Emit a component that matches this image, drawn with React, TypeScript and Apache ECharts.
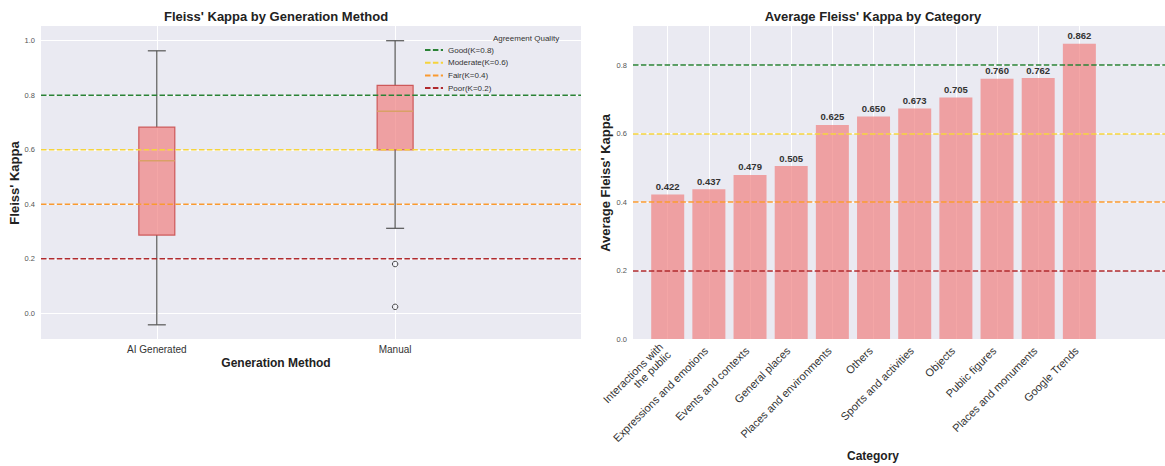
import React, { useEffect, useRef } from "react";
import * as echarts from "echarts";

// ---- Data ----
const methods = ["AI Generated", "Manual"];
const whiskerLow = [-0.042, 0.312];
const q1 = [0.287, 0.6];
const median = [0.56, 0.741];
const q3 = [0.683, 0.836];
const whiskerHigh = [0.963, 1.0];
const manualOutliers = [0.181, 0.024];

const thresholdNames = ["Good(K=0.8)", "Moderate(K=0.6)", "Fair(K=0.4)", "Poor(K=0.2)"];
const thresholdValues = [0.8, 0.6, 0.4, 0.2];

const categories = [
  "Interactions with\nthe public",
  "Expressions and emotions",
  "Events and contexts",
  "General places",
  "Places and environments",
  "Others",
  "Sports and activities",
  "Objects",
  "Public figures",
  "Places and monuments",
  "Google Trends",
];
const avgKappa = [0.422, 0.437, 0.479, 0.505, 0.625, 0.65, 0.673, 0.705, 0.76, 0.762, 0.862];

const leftTicks = [0, 0.2, 0.4, 0.6, 0.8, 1.0];
const rightTicks = [0, 0.2, 0.4, 0.6, 0.8];

// ---- Styles ----
const thresholdColors = ["#2A8236", "#F5D43C", "#FA9A30", "#B02A2E"];
const FONT = "Liberation Sans";
const BG = "#EAEAF2";
const leftX = { min: 0.514, max: 2.78 };
const leftY = { min: -0.094, max: 1.054 };
const rightX = { min: -0.843, max: 12.08 };
const rightY = { min: 0, max: 0.914 };

export default function App() {
  const ref = useRef<HTMLDivElement>(null);
  useEffect(() => {
    if (!ref.current) return;
    const chart = echarts.init(ref.current, null, { renderer: "svg" });
    const dash = [5.5, 2.4];

    const boxData = methods.map((_, i) => [i + 1, whiskerLow[i], q1[i], median[i], q3[i], whiskerHigh[i]]);
    const outlierData = manualOutliers.map((v) => [methods.indexOf("Manual") + 1, v]);
    const barData = avgKappa.map((v, i) => [i, v]);

    const option: any = {
      animation: false,
      backgroundColor: "#ffffff",
      textStyle: { fontFamily: FONT },
      grid: [
        { left: 41, top: 26, width: 540, height: 313, show: true, backgroundColor: BG, borderWidth: 0 },
        { left: 633, top: 26, width: 532, height: 313, show: true, backgroundColor: BG, borderWidth: 0 },
      ],
      xAxis: [
        {
          gridIndex: 0,
          type: "value",
          min: leftX.min,
          max: leftX.max,
          axisLine: { show: false },
          axisTick: { show: false, customValues: [1, 2] },
          splitLine: { show: true, lineStyle: { color: "#ffffff", width: 1 } },
          axisLabel: {
            customValues: [1, 2],
            formatter: (v: number) => methods[Math.round(v) - 1] ?? "",
            fontSize: 10,
            color: "#333",
            margin: 5,
            fontFamily: FONT,
          },
        },
        {
          gridIndex: 1,
          type: "value",
          min: rightX.min,
          max: rightX.max,
          axisLine: { show: false },
          axisTick: { show: false, customValues: categories.map((_, i) => i) },
          splitLine: { show: true, lineStyle: { color: "#ffffff", width: 1 } },
          axisLabel: {
            customValues: categories.map((_, i) => i),
            formatter: (v: number) => categories[Math.round(v)] ?? "",
            fontSize: 11,
            color: "#333",
            rotate: 45,
            margin: 7,
            padding: [0, 4, 0, 0],
            fontFamily: FONT,
          },
        },
      ],
      yAxis: [
        {
          gridIndex: 0,
          type: "value",
          min: leftY.min,
          max: leftY.max,
          axisLine: { show: false },
          axisTick: { show: false, customValues: leftTicks },
          splitLine: { show: true, lineStyle: { color: "#ffffff", width: 1 } },
          axisLabel: {
            customValues: leftTicks,
            formatter: (v: number) => v.toFixed(1),
            fontSize: 7.5,
            color: "#555",
            margin: 6,
            fontFamily: FONT,
          },
        },
        {
          gridIndex: 1,
          type: "value",
          min: rightY.min,
          max: rightY.max,
          axisLine: { show: false },
          axisTick: { show: false, customValues: rightTicks },
          splitLine: { show: true, lineStyle: { color: "#ffffff", width: 1 } },
          axisLabel: {
            customValues: rightTicks,
            formatter: (v: number) => v.toFixed(1),
            fontSize: 7.5,
            color: "#555",
            margin: 6,
            fontFamily: FONT,
          },
        },
      ],
      legend: {
        orient: "vertical",
        left: 424,
        top: 46,
        padding: 0,
        itemWidth: 18,
        itemHeight: 8,
        itemGap: 4.7,
        data: thresholdNames,
        itemStyle: { opacity: 0 },
        textStyle: { fontSize: 8, color: "#333", fontFamily: FONT },
      },
      series: [
        {
          type: "custom",
          xAxisIndex: 0,
          yAxisIndex: 0,
          z: 2,
          data: boxData,
          renderItem: (params: any, api: any) => {
            const x = api.value(0);
            const pLow = api.coord([x, api.value(1)]);
            const pQ1 = api.coord([x, api.value(2)]);
            const pMed = api.coord([x, api.value(3)]);
            const pQ3 = api.coord([x, api.value(4)]);
            const pHigh = api.coord([x, api.value(5)]);
            const half = 18;
            const cap = 9;
            const ws = { stroke: "#555", lineWidth: 1.2 };
            return {
              type: "group",
              children: [
                { type: "line", shape: { x1: pLow[0], y1: pLow[1], x2: pQ1[0], y2: pQ1[1] }, style: ws },
                { type: "line", shape: { x1: pQ3[0], y1: pQ3[1], x2: pHigh[0], y2: pHigh[1] }, style: ws },
                { type: "line", shape: { x1: pLow[0] - cap, y1: pLow[1], x2: pLow[0] + cap, y2: pLow[1] }, style: ws },
                { type: "line", shape: { x1: pHigh[0] - cap, y1: pHigh[1], x2: pHigh[0] + cap, y2: pHigh[1] }, style: ws },
                {
                  type: "rect",
                  shape: { x: pQ3[0] - half, y: pQ3[1], width: half * 2, height: pQ1[1] - pQ3[1] },
                  style: { fill: "rgba(240,128,128,0.7)", stroke: "rgba(200,70,70,0.85)", lineWidth: 1.2 },
                },
                {
                  type: "line",
                  shape: { x1: pMed[0] - half, y1: pMed[1], x2: pMed[0] + half, y2: pMed[1] },
                  style: { stroke: "#D9A066", lineWidth: 1.5 },
                },
              ],
            };
          },
        },
        {
          type: "scatter",
          xAxisIndex: 0,
          yAxisIndex: 0,
          z: 3,
          symbol: "circle",
          symbolSize: 5.5,
          data: outlierData,
          itemStyle: { color: "rgba(0,0,0,0)", borderColor: "#222", borderWidth: 1 },
        },
        ...thresholdNames.map((name, i) => ({
          type: "line",
          name,
          xAxisIndex: 0,
          yAxisIndex: 0,
          z: 5,
          symbol: "none",
          data: [
            [leftX.min, thresholdValues[i]],
            [leftX.max, thresholdValues[i]],
          ],
          lineStyle: { color: thresholdColors[i], width: 1.5, type: dash },
          itemStyle: { color: thresholdColors[i] },
        })),
        {
          type: "bar",
          xAxisIndex: 1,
          yAxisIndex: 1,
          barWidth: 33,
          data: barData,
          itemStyle: { color: "rgba(240,128,128,0.7)" },
          label: {
            show: true,
            position: "top",
            distance: 3,
            formatter: (p: any) => p.value[1].toFixed(3),
            fontSize: 9.5,
            fontWeight: "bold",
            color: "#333",
            fontFamily: FONT,
          },
          markLine: {
            silent: true,
            symbol: ["none", "none"],
            label: { show: false },
            data: thresholdValues.map((v, i) => ({
              yAxis: v,
              lineStyle: { color: thresholdColors[i], width: 1.5, type: dash },
            })),
          },
        },
      ],
      graphic: [
        {
          type: "text",
          x: 276,
          y: 16,
          style: { text: "Fleiss' Kappa by Generation Method", fontSize: 13, fontWeight: "bold", fontFamily: FONT, fill: "#222", align: "center", verticalAlign: "middle" },
        },
        {
          type: "text",
          x: 873,
          y: 16,
          style: { text: "Average Fleiss' Kappa by Category", fontSize: 13, fontWeight: "bold", fontFamily: FONT, fill: "#222", align: "center", verticalAlign: "middle" },
        },
        {
          type: "text",
          x: 276,
          y: 363,
          style: { text: "Generation Method", fontSize: 12, fontWeight: "bold", fontFamily: FONT, fill: "#222", align: "center", verticalAlign: "middle" },
        },
        {
          type: "text",
          x: 873,
          y: 456,
          style: { text: "Category", fontSize: 12, fontWeight: "bold", fontFamily: FONT, fill: "#222", align: "center", verticalAlign: "middle" },
        },
        {
          type: "text",
          x: 14,
          y: 183,
          rotation: Math.PI / 2,
          style: { text: "Fleiss' Kappa", fontSize: 13, fontWeight: "bold", fontFamily: FONT, fill: "#222", align: "center", verticalAlign: "middle" },
        },
        {
          type: "text",
          x: 605,
          y: 183,
          rotation: Math.PI / 2,
          style: { text: "Average Fleiss' Kappa", fontSize: 13, fontWeight: "bold", fontFamily: FONT, fill: "#222", align: "center", verticalAlign: "middle" },
        },
        {
          type: "text",
          x: 526,
          y: 38,
          z: 100,
          style: { text: "Agreement Quality", fontSize: 8, fontFamily: FONT, fill: "#333", align: "center", verticalAlign: "middle" },
        },
      ],
    };
    chart.setOption(option);
    return () => chart.dispose();
  }, []);
  return (
    <div
      ref={ref}
      style={{ position: "absolute", left: 0, top: 0, width: 1165, height: 466, background: "#fff" }}
    />
  );
}
